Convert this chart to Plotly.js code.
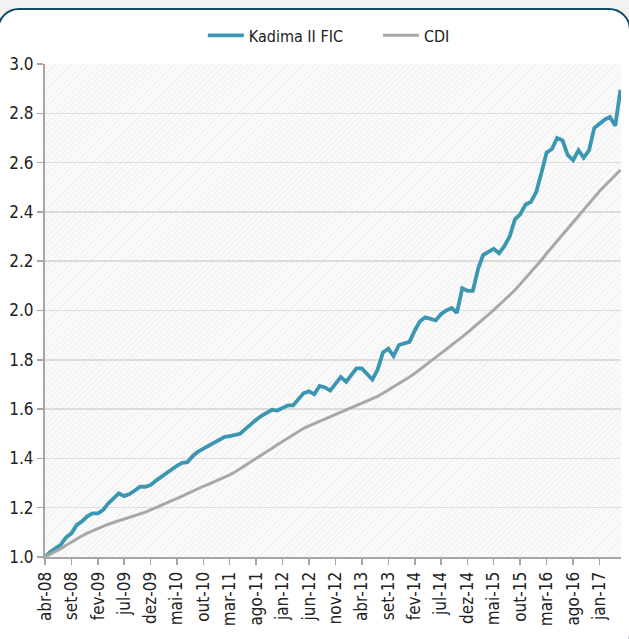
<!DOCTYPE html>
<html>
<head>
<meta charset="utf-8">
<script src="https://cdn.plot.ly/plotly-3.0.1.min.js"></script>
<style>
  html, body { margin:0; padding:0; background:#f2f2f2; width:629px; height:639px; overflow:hidden; }
  #frame { position:absolute; left:-3px; top:8px; width:630px; height:645px; border:2px solid #0e4c69; border-radius:22px; background:#ffffff; }
  #hatch { position:absolute; left:45px; top:64px; width:576px; height:493px;
    background: repeating-linear-gradient(135deg, #fafafa 0px, #fafafa 3px, #f1f1f1 3px, #f1f1f1 4px); }
  #chart { position:absolute; left:0; top:0; width:629px; height:639px; }
</style>
</head>
<body>
<div id="frame"></div>
<div id="hatch"></div>
<div id="chart"></div>
<script>
// Monthly observations starting abr-2008
const startYear = 2008, startMonth = 4;
const kadima = [
  1.000, 1.020, 1.035, 1.050, 1.080, 1.096, 1.130, 1.145, 1.165, 1.177,
  1.177, 1.190, 1.218, 1.240, 1.258, 1.247, 1.255, 1.270, 1.285, 1.285,
  1.292, 1.310, 1.325, 1.340, 1.358, 1.370, 1.382, 1.385, 1.410, 1.428,
  1.440, 1.452, 1.465, 1.478, 1.487, 1.490, 1.495, 1.500, 1.520, 1.540,
  1.557, 1.573, 1.587, 1.597, 1.594, 1.603, 1.615, 1.615, 1.640, 1.665,
  1.672, 1.660, 1.694, 1.688, 1.675, 1.700, 1.730, 1.711, 1.738, 1.765,
  1.765, 1.745, 1.720, 1.760, 1.830, 1.845, 1.815, 1.860, 1.865, 1.873,
  1.920, 1.955, 1.972, 1.968, 1.960, 1.985, 2.000, 2.010, 1.990, 2.090,
  2.080, 2.080, 2.170, 2.225, 2.240, 2.250, 2.232, 2.260, 2.300, 2.370,
  2.390, 2.430, 2.440, 2.480, 2.560, 2.640, 2.655, 2.700, 2.690, 2.630,
  2.610, 2.650, 2.620, 2.650, 2.740, 2.760, 2.775, 2.785, 2.750, 2.895
];
const cdi = [
  1.000, 1.011, 1.022, 1.034, 1.048, 1.062, 1.074, 1.086, 1.097, 1.107,
  1.117, 1.125, 1.133, 1.140, 1.147, 1.154, 1.161, 1.167, 1.173, 1.182,
  1.191, 1.200, 1.209, 1.218, 1.228, 1.237, 1.247, 1.257, 1.268, 1.278,
  1.287, 1.296, 1.305, 1.314, 1.323, 1.333, 1.345, 1.358, 1.371, 1.385,
  1.399, 1.413, 1.427, 1.441, 1.455, 1.469, 1.483, 1.497, 1.510, 1.522,
  1.532, 1.541, 1.550, 1.559, 1.568, 1.577, 1.586, 1.595, 1.604, 1.613,
  1.622, 1.631, 1.641, 1.652, 1.664, 1.677, 1.690, 1.703, 1.716, 1.730,
  1.745, 1.760, 1.776, 1.792, 1.808, 1.825, 1.842, 1.859, 1.876, 1.893,
  1.910, 1.928, 1.946, 1.964, 1.983, 2.002, 2.022, 2.042, 2.062, 2.083,
  2.107, 2.131, 2.155, 2.180, 2.205, 2.231, 2.257, 2.283, 2.309, 2.335,
  2.361, 2.387, 2.412, 2.437, 2.462, 2.485, 2.507, 2.528, 2.549, 2.570
];
const tickLabels = ['abr-08','set-08','fev-09','jul-09','dez-09','mai-10','out-10','mar-11','ago-11','jan-12','jun-12','nov-12','abr-13','set-13','fev-14','jul-14','dez-14','mai-15','out-15','mar-16','ago-16','jan-17'];
const tickDates = ['2008-04-01','2008-09-01','2009-02-01','2009-07-01','2009-12-01','2010-05-01','2010-10-01','2011-03-01','2011-08-01','2012-01-01','2012-06-01','2012-11-01','2013-04-01','2013-09-01','2014-02-01','2014-07-01','2014-12-01','2015-05-01','2015-10-01','2016-03-01','2016-08-01','2017-01-01'];
const yTicks = [1.0,1.2,1.4,1.6,1.8,2.0,2.2,2.4,2.6,2.8,3.0];
const yTickText = ['1.0','1.2','1.4','1.6','1.8','2.0','2.2','2.4','2.6','2.8','3.0'];

function monthDate(i) {
  const t = (startMonth - 1) + i;
  const y = startYear + Math.floor(t / 12);
  const m = (t % 12) + 1;
  return y + '-' + String(m).padStart(2, '0') + '-01';
}
const dates = kadima.map((_, i) => monthDate(i));

const FONT = 'Liberation Sans Narrow, DejaVu Sans Condensed, Arial Narrow, sans-serif';

const traces = [
  { x: dates, y: kadima, type: 'scatter', mode: 'lines', name: 'Kadima II FIC', legend: 'legend',
    line: { color: '#3b97b1', width: 3.8 } },
  { x: dates, y: cdi, type: 'scatter', mode: 'lines', name: 'CDI', legend: 'legend2',
    line: { color: '#a8a8a8', width: 3 } }
];

const legendBase = { orientation: 'h', xanchor: 'left', y: 1.058, yanchor: 'middle',
  font: { family: FONT, size: 16, color: '#222' }, itemwidth: 36, bgcolor: 'rgba(0,0,0,0)' };

const layout = {
  width: 629, height: 639,
  margin: { l: 45, r: 8, t: 64, b: 82 },
  paper_bgcolor: 'rgba(0,0,0,0)',
  plot_bgcolor: 'rgba(0,0,0,0)',
  font: { family: FONT, size: 16, color: '#222' },
  showlegend: true,
  legend: Object.assign({}, legendBase, { x: 0.274 }),
  legend2: Object.assign({}, legendBase, { x: 0.578 }),
  xaxis: {
    type: 'date', range: ['2008-04-01', '2017-05-04'],
    tickmode: 'array', tickvals: tickDates, ticktext: tickLabels, tickangle: -90,
    tickfont: { family: FONT, size: 17, color: '#222' },
    showgrid: false, zeroline: false,
    showline: true, linecolor: '#a6a6a6', linewidth: 2,
    ticks: 'outside', ticklen: 6, tickcolor: '#a6a6a6', tickwidth: 1.5
  },
  yaxis: {
    range: [1.0, 3.0], tickmode: 'array', tickvals: yTicks, ticktext: yTickText,
    tickfont: { family: FONT, size: 17, color: '#222' },
    showgrid: true, gridcolor: '#dcdcdc', gridwidth: 1.5, zeroline: false,
    showline: true, linecolor: '#a6a6a6', linewidth: 2,
    ticks: 'outside', ticklen: 6, tickcolor: '#a6a6a6', tickwidth: 1.5
  }
};

Plotly.newPlot('chart', traces, layout, { displayModeBar: false, staticPlot: true });
</script>
</body>
</html>
